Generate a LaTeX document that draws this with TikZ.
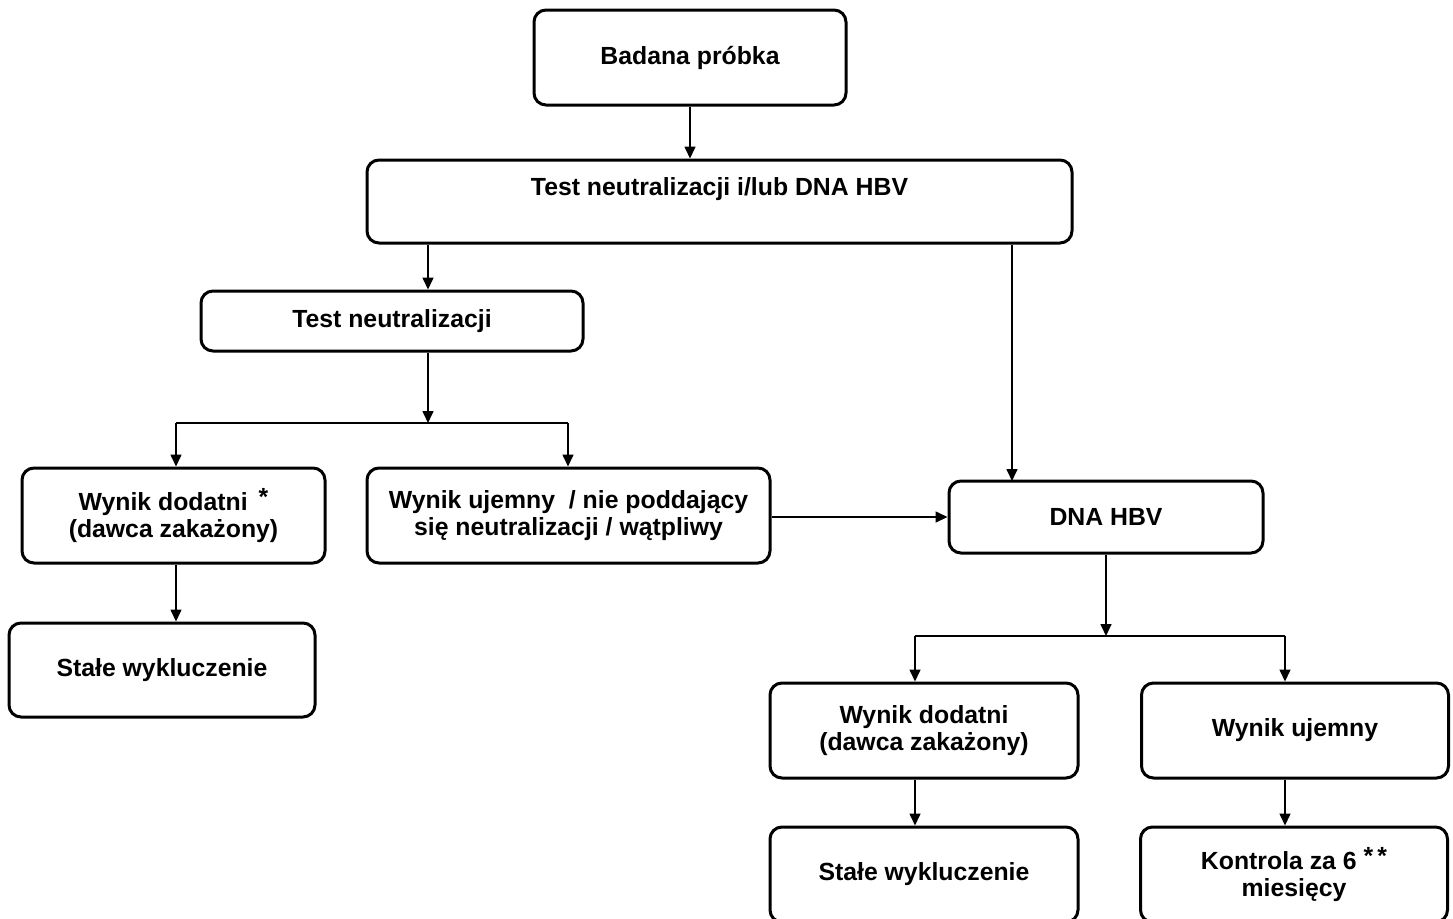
\documentclass[tikz,border=0pt]{standalone}
\usepackage{fontspec}
\setmainfont{Liberation Sans}
\usetikzlibrary{positioning, arrows.meta}

\begin{document}
\begin{tikzpicture}[x=0.5pt, y=-0.5pt,
	box/.style={draw, line width=1.5pt, rounded corners=6pt, align=center, inner sep=2pt,
		font=\bfseries\fontsize{12.4}{13.5}\selectfont},
	arr/.style={-{Triangle[length=6pt,width=5.5pt]}, line width=0.8pt},
	link/.style={line width=0.8pt}]
				\useasboundingbox (0,0) rectangle (1453,918);
				% upper part
				\node[box, minimum width=156pt, minimum height=47.5pt] (bad) at (690,57.5) {Badana próbka};
				\node[box, minimum width=352.5pt, minimum height=41.5pt, text height=9pt, text depth=15pt] (tid) at (719.5,201.5) {Test neutralizacji i/lub DNA HBV};
				\node[box, minimum width=191pt, minimum height=30pt] (tn) at (392,321) {Test neutralizacji};
				% left branch
				\node[box, minimum width=151.5pt, minimum height=47.5pt] (wdl) at (173.5,515.5) {Wynik dodatni\, \raisebox{2.5pt}{*}\\(dawca zakażony)};
				\node[box, minimum width=201.5pt, minimum height=47.5pt] (wul) at (568.5,515.5) {Wynik ujemny\ \ / nie poddający\\się neutralizacji / wątpliwy};
				\node[box, minimum width=153pt, minimum height=47pt] (swl) at (162,670) {Stałe wykluczenie};
				% right branch
				\node[box, minimum width=157pt, minimum height=36pt] (dna) at (1106,517) {DNA HBV};
				\node[box, minimum width=154pt, minimum height=47.5pt] (wdr) at (924,730.5) {Wynik dodatni\\(dawca zakażony)};
				\node[box, minimum width=153.5pt, minimum height=47.5pt] (wur) at (1295,730.5) {Wynik ujemny};
				\node[box, minimum width=154pt, minimum height=47.5pt] (swr) at (924,874.5) {Stałe wykluczenie};
				\node[box, minimum width=153.5pt, minimum height=47.5pt] (kon) at (1294,874.5) {Kontrola za 6 \raisebox{2.5pt}{*\,*}\\miesięcy};
				% split points
				\coordinate (forkA) at (428,423);
				\coordinate (leftA) at (176,423);
				\coordinate (rightA) at (568,423);
				\coordinate (dnain) at (1012,481);
				\coordinate (forkB) at (1106,636);
				\coordinate (leftB) at (915,636);
				\coordinate (rightB) at (1285,636);
				\draw[arr] (bad.south) -- (bad.south |- tid.north);
				\draw[arr] (tid.south -| forkA) -- (tn.north -| forkA);
				\draw[arr] (tn.south -| forkA) -- (forkA);
				\draw[link] (leftA) -- (rightA);
				\draw[arr] (leftA) -- (wdl.north -| leftA);
				\draw[arr] (rightA) -- (wul.north -| rightA);
				\draw[arr] (wdl.south -| leftA) -- (swl.north -| leftA);
				\draw[arr] (tid.south -| dnain) -- (dnain);
				\draw[arr] (wul.east |- dna.west) -- (dna.west);
				\draw[arr] (dna.south) -- (forkB);
				\draw[link] (leftB) -- (rightB);
				\draw[arr] (leftB) -- (wdr.north -| leftB);
				\draw[arr] (rightB) -- (wur.north -| rightB);
				\draw[arr] (wdr.south -| leftB) -- (swr.north -| leftB);
				\draw[arr] (wur.south -| rightB) -- (kon.north -| rightB);
			\end{tikzpicture}
\end{document}
